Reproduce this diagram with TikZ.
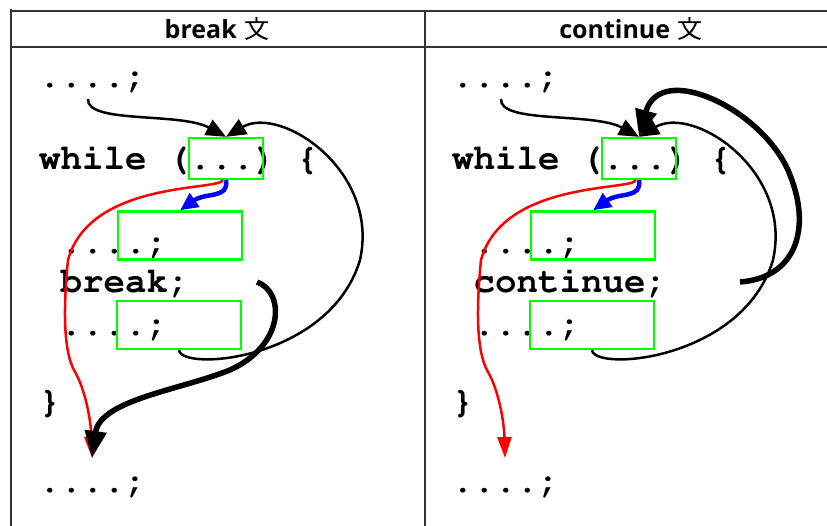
\documentclass[tikz,border=0pt]{standalone}
\usepackage[T1]{fontenc}
\usepackage{fontspec}
\newfontfamily\headfont{Open Sans}
\newfontfamily\cjkfont{Noto Sans CJK JP}
\usetikzlibrary{arrows.meta}

% bold Courier for the code lines
\newcommand\codefont{\fontencoding{T1}\fontfamily{pcr}\fontseries{b}\fontshape{n}\fontsize{35.8}{36}\selectfont\frenchspacing}

\definecolor{gridgray}{HTML}{333333}
\definecolor{boxgreen}{HTML}{00FF00}

\tikzset{
  gridline/.style={line width=2pt, draw=gridgray},
  headtext/.style={inner sep=0pt, font=\fontsize{25}{28}\selectfont},
  codeline/.style={anchor=base west, inner sep=0pt, font=\codefont},
  condbox/.style={draw=boxgreen, line width=2.4pt, inner sep=0pt, minimum width=74pt, minimum height=41pt},
  bodybox/.style={draw=boxgreen, line width=2.4pt, inner sep=0pt, minimum width=124pt, minimum height=48pt},
  flow/.style={draw=black, line width=2.5pt, -{Triangle[length=20pt,width=17pt]}},
  jump/.style={draw=black, line width=5.5pt, -{Triangle[length=27pt,width=21pt]}},
  truepath/.style={draw=blue, line width=4.5pt, -{Triangle[length=18pt,width=16pt]}},
  falsepath/.style={draw=red, line width=2.5pt, -{Triangle[length=21pt,width=14pt]}},
}

% one column of the table: code, condition boxes and the common flows
% #1 name prefix, #2 horizontal offset, #3 jump statement
\newcommand\codepanel[3]{%
  \begin{scope}[xshift=#2pt]
    \node[codeline] (#1r1) at (39,88)  {....;};
    \node[codeline] (#1r2) at (39,170) {while (...) \{};
    \node[codeline] (#1r3) at (60.5,254) {....;};
    \node[codeline] (#1r4) at (60.5,293) {#3};
    \node[codeline] (#1r5) at (60.5,336) {....;};
    \node[codeline] (#1r6) at (39,412) {\}};
    \node[codeline] (#1r7) at (39,492) {....;};
    \node[condbox] (#1b1) at (226,158.5) {};
    \node[bodybox] (#1b2) at (180,235.5) {};
    \node[bodybox] (#1b3) at (179,325)   {};
    \coordinate (#1in)   at (88,99);
    \coordinate (#1fork) at (223,180);
    \coordinate (#1exit) at (92,458);
    % entry into the loop test
    \draw[flow] (#1in) .. controls (86,124) and (180,112) .. (#1b1.north);
    % condition true: into the body
    \draw[truepath] (#1b1.south) .. controls (229,199) and (206,192) .. (#1b2.north);
    % condition false: leave the loop
    \draw[falsepath] (#1fork) .. controls (220,191) and (90,180) .. (68,260)
      .. controls (64,300) and (62,350) .. (75,372)
      .. controls (85,389) and (91,420) .. (#1exit);
    % end of the body: back to the test
    \draw[flow] (#1b3.south) .. controls (182,372) and (330,360) .. (360,260)
      .. controls (380,170) and (280,105) .. (#1b1.north);
  \end{scope}}

\begin{document}
\begin{tikzpicture}[x=1pt, y=-1pt]
  \useasboundingbox (0,0) rectangle (827,526);

  % table frame
  \draw[gridline] (11,11) -- (827,11);
  \draw[gridline] (11,47.5) -- (827,47.5);
  \draw[gridline] (11,9) -- (11,526);
  \draw[gridline] (424.5,11) -- (424.5,526);

  \node[headtext] (Lhead) at (217,29) {{\headfont\bfseries break} {\cjkfont 文}};
  \node[headtext] (Rhead) at (631,29) {{\headfont\bfseries continue} {\cjkfont 文}};

  \codepanel{L}{0}{break;}
  \codepanel{R}{413}{continue;}

  % break: jump out past the loop
  \coordinate (Lbrk) at (257,282);
  \draw[jump] (Lbrk) .. controls (285,292) and (285,345) .. (230,370)
    .. controls (180,390) and (100,400) .. (Lexit);

  % continue: jump back to the test
  \coordinate (Rcont) at (740,282);
  \draw[jump] (Rcont) .. controls (795,278) and (812,230) .. (790,175)
    .. controls (765,110) and (660,60) .. (Rb1.north);
\end{tikzpicture}
\end{document}
